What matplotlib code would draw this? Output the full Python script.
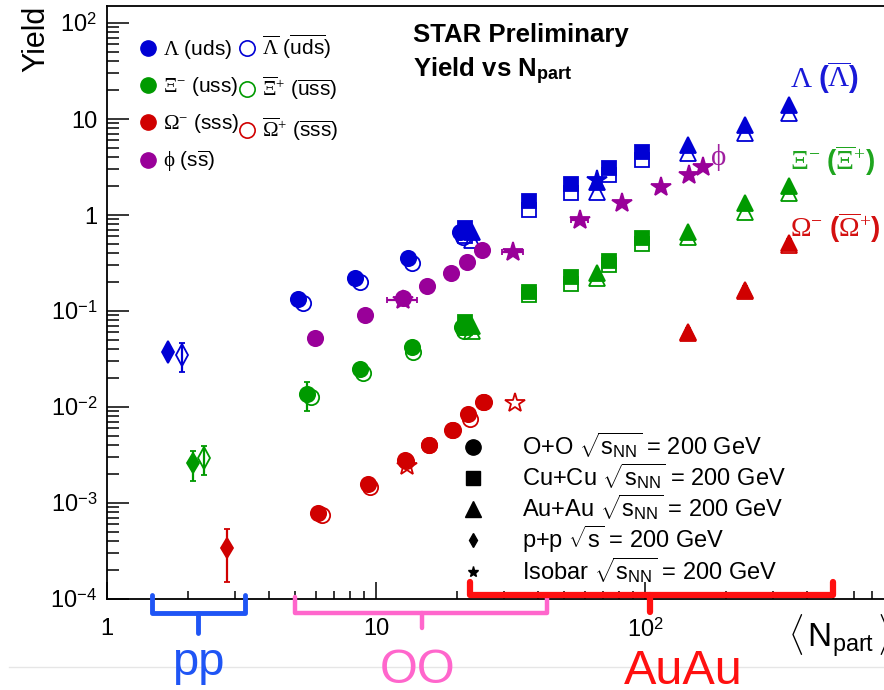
import numpy as np
import matplotlib.pyplot as plt
from matplotlib.lines import Line2D
from matplotlib.ticker import FuncFormatter, LogLocator, NullFormatter

plt.rcParams['font.family'] = ['Liberation Sans', 'DejaVu Sans']
plt.rcParams['mathtext.fontset'] = 'custom'
plt.rcParams['mathtext.rm'] = 'Liberation Serif'
plt.rcParams['mathtext.it'] = 'Liberation Serif:italic'
plt.rcParams['mathtext.bf'] = 'Liberation Sans:bold'
plt.rcParams['mathtext.sf'] = 'Liberation Sans'

# ---- p+p ----
pp_npart = [1.69, 2.09, 2.79]            # Lambda, Xi, Omega
pp_yield = [0.0374, 0.00261, 0.00034]
pp_err = [0.004, 0.0009, 0.00019]
pp_bar_npart = [1.90, 2.29]              # anti-Lambda, anti-Xi
pp_bar_yield = [0.0348, 0.00294]
pp_bar_err = [0.0116, 0.0010]

# ---- O+O ----
oo_lam_npart = [5.13, 8.36, 13.2, 20.5]
oo_lam = [0.133, 0.221, 0.356, 0.665]
oo_lbar_npart = [5.35, 8.72, 13.6, 21.1]
oo_lbar = [0.121, 0.200, 0.316, 0.59]
oo_xi_npart = [5.54, 8.72, 13.6, 20.9]
oo_xi = [0.01365, 0.0249, 0.0422, 0.068]
oo_xi_err = [0.0046, 0.0025, 0.003, 0.004]
oo_xbar_npart = [5.73, 8.95, 13.7, 21.2]
oo_xbar = [0.0127, 0.0226, 0.0374, 0.0619]
oo_om_npart = [6.09, 9.34, 12.8, 15.7, 19.2, 22.0, 25.0]
oo_om = [0.000787, 0.00158, 0.00281, 0.00402, 0.00576, 0.00845, 0.01128]
oo_obar_npart = [6.30, 9.50, 12.9, 15.8, 19.4, 22.4, 25.2]
oo_obar = [0.00075, 0.00147, 0.00275, 0.0040, 0.0057, 0.0075, 0.0112]
oo_phi_npart = [5.93, 9.1, 12.6, 15.5, 19.0, 21.8, 24.8]
oo_phi = [0.052, 0.091, 0.136, 0.182, 0.249, 0.324, 0.432]

# ---- Cu+Cu ----
cu_npart = [21.4, 37.0, 53.1, 73.5, 97.4]
cu_lam = [0.733, 1.40, 2.10, 3.09, 4.53]
cu_lbar = [0.60, 1.13, 1.69, 2.61, 3.74]
cu_xi = [0.0767, 0.158, 0.226, 0.332, 0.575]
cu_xbar = [0.0665, 0.147, 0.191, 0.301, 0.499]

# ---- Au+Au ----
au_npart = [22.7, 66.3, 144.5, 235, 343]
au_lam = [0.665, 2.21, 5.36, 8.66, 14.0]
au_lbar = [0.55, 1.74, 4.42, 7.14, 11.5]
au_xi = [0.070, 0.249, 0.665, 1.33, 2.01]
au_xbar = [0.062, 0.221, 0.59, 1.07, 1.69]
au_om_npart = [144.5, 235, 343]
au_om = [0.0604, 0.1655, 0.511]
au_obar = [0.0585, 0.160, 0.49]

# ---- Isobar ----
iso_phi_npart = [12.6, 32.3, 57.3, 82.1, 115, 146, 164]
iso_phi = [0.131, 0.412, 0.887, 1.33, 1.96, 2.61, 3.16]
iso_phi_xerr = [1.6, 3.0, 4.0, 0, 0, 0, 0]
iso_lam_npart = [66.3]
iso_lam = [2.32]
iso_obar_npart = [13.0, 32.9]
iso_obar = [0.00243, 0.0110]

C_LAM = '#0000d4'
C_XI = '#009a00'
C_OM = '#d00000'
C_PHI = '#990099'

fig = plt.figure(figsize=(8.84, 6.9), dpi=100)
ax = fig.add_axes([107 / 884, 91 / 690, 807 / 884, 593 / 690])
ax.set_xscale('log')
ax.set_yscale('log')
ax.set_xlim(1, 1000)
ax.set_ylim(1e-4, 10 ** (2 + 17 / 96))


def draw(x, y, marker, color, filled, ms, yerr=None, xerr=None, z=3):
    ax.errorbar(x, y, yerr=yerr, xerr=xerr, fmt=marker, color=color,
                mfc=color if filled else 'none', mec=color, ms=ms, mew=1.3,
                elinewidth=1.6, capsize=2 if (yerr is not None or xerr is not None) else 0,
                zorder=z + (1 if filled else 0))


# open (anti-particle) markers under the filled ones
draw(pp_bar_npart[:1], pp_bar_yield[:1], 'd', C_LAM, False, 11, yerr=pp_bar_err[:1])
draw(pp_bar_npart[1:], pp_bar_yield[1:], 'd', C_XI, False, 11, yerr=pp_bar_err[1:])
draw(pp_npart[:1], pp_yield[:1], 'd', C_LAM, True, 11)
draw(pp_npart[1:2], pp_yield[1:2], 'd', C_XI, True, 10, yerr=pp_err[1:2])
draw(pp_npart[2:], pp_yield[2:], 'd', C_OM, True, 10, yerr=pp_err[2:])

draw(oo_lbar_npart, oo_lbar, 'o', C_LAM, False, 11)
draw(oo_lam_npart, oo_lam, 'o', C_LAM, True, 11)
draw(oo_xbar_npart, oo_xbar, 'o', C_XI, False, 11)
draw(oo_xi_npart, oo_xi, 'o', C_XI, True, 11, yerr=oo_xi_err)
draw(oo_obar_npart, oo_obar, 'o', C_OM, False, 11)
draw(oo_om_npart, oo_om, 'o', C_OM, True, 11)
draw(oo_phi_npart, oo_phi, 'o', C_PHI, True, 11)

draw(cu_npart, cu_lbar, 's', C_LAM, False, 10.5)
draw(cu_npart, cu_lam, 's', C_LAM, True, 10.5)
draw(cu_npart, cu_xbar, 's', C_XI, False, 10.5)
draw(cu_npart, cu_xi, 's', C_XI, True, 10.5)

draw(au_npart, au_lbar, '^', C_LAM, False, 11)
draw(au_npart, au_lam, '^', C_LAM, True, 11)
draw(au_npart, au_xbar, '^', C_XI, False, 11)
draw(au_npart, au_xi, '^', C_XI, True, 11)
draw(au_om_npart, au_obar, '^', C_OM, False, 11)
draw(au_om_npart, au_om, '^', C_OM, True, 11, yerr=[0.1 * v for v in au_om])

draw(iso_phi_npart, iso_phi, '*', C_PHI, True, 15, xerr=iso_phi_xerr)
draw(iso_lam_npart, iso_lam, '*', C_LAM, True, 15)
draw(iso_obar_npart, iso_obar, '*', C_OM, False, 15)

# axes styling
for side in ['left', 'bottom', 'top']:
    ax.spines[side].set_linewidth(1.3)
ax.spines['right'].set_visible(False)
ax.xaxis.set_major_locator(LogLocator(base=10))
ax.xaxis.set_minor_locator(LogLocator(base=10, subs=np.arange(2, 10)))
ax.yaxis.set_major_locator(LogLocator(base=10))
ax.yaxis.set_minor_locator(LogLocator(base=10, subs=np.arange(2, 10)))
ax.xaxis.set_minor_formatter(NullFormatter())
ax.yaxis.set_minor_formatter(NullFormatter())


def decade(v, pos):
    e = int(round(np.log10(v)))
    if e == 0:
        return '1'
    if e == 1:
        return '10'
    return r'$\mathsf{10}^{\mathsf{%d}}$' % e


ax.xaxis.set_major_formatter(FuncFormatter(decade))
ax.yaxis.set_major_formatter(FuncFormatter(decade))
ax.tick_params(which='both', direction='in', top=False, right=False, width=1.1,
               labelsize=17)
ax.xaxis.set_tick_params(which='major', length=12, pad=14)
ax.xaxis.set_tick_params(which='minor', length=6)
ax.yaxis.set_tick_params(which='major', length=16, pad=7)
ax.yaxis.set_tick_params(which='minor', length=8.5)

ax.text(-0.088, 1.0, 'Yield', transform=ax.transAxes, rotation=90,
        ha='center', va='top', fontsize=22)
fig.text(788 / 884, 0.062, r'$\langle\,\mathsf{N}_{\mathsf{part}}\,\rangle$',
         fontsize=24, ha='left', va='baseline')

ax.text(0.379, 0.939, 'STAR Preliminary', transform=ax.transAxes,
        fontsize=18.5, fontweight='bold', va='baseline')
ax.text(0.379, 0.880, r'Yield vs $\mathbf{N}_{\mathbf{part}}$',
        transform=ax.transAxes, fontsize=18.5, fontweight='bold', va='baseline')

ax.text(0.846, 0.862, r'$\Lambda\ \mathbf{(}\overline{\Lambda}\mathbf{)}$',
        transform=ax.transAxes, fontsize=21, color='#1a1ad8', va='baseline')
ax.text(0.846, 0.723, r'$\Xi^{-}\ \mathbf{(}\overline{\Xi}^{+}\mathbf{)}$',
        transform=ax.transAxes, fontsize=20, color='#1fa51f', va='baseline')
ax.text(0.846, 0.610, r'$\Omega^{-}\ \mathbf{(}\overline{\Omega}^{+}\mathbf{)}$',
        transform=ax.transAxes, fontsize=20, color='#d41010', va='baseline')
ax.text(0.747, 0.732, r'$\mathrm{\phi}$', transform=ax.transAxes,
        fontsize=21, color='#a020a0', va='baseline')

# species legend (two columns)
sp = dict(ls='none', ms=11)
species_handles = [
    Line2D([], [], marker='o', color=C_LAM, **sp),
    Line2D([], [], marker='o', color=C_XI, **sp),
    Line2D([], [], marker='o', color=C_OM, **sp),
    Line2D([], [], marker='o', color=C_PHI, **sp),
    Line2D([], [], marker='o', color=C_LAM, mfc='none', mew=1.2, **sp),
    Line2D([], [], marker='o', color=C_XI, mfc='none', mew=1.2, **sp),
    Line2D([], [], marker='o', color=C_OM, mfc='none', mew=1.2, **sp),
]
species_labels = [
    r'$\Lambda$ (uds)', r'$\Xi^{-}$ (uss)', r'$\Omega^{-}$ (sss)',
    r'$\mathrm{\phi}$ (s$\overline{\mathsf{s}}$)',
    r'$\overline{\Lambda}$ ($\overline{\mathsf{uds}}$)',
    r'$\overline{\Xi}^{+}$ ($\overline{\mathsf{uss}}$)',
    r'$\overline{\Omega}^{+}$ ($\overline{\mathsf{sss}}$)',
]
leg1 = ax.legend(species_handles, species_labels, ncol=2, frameon=False,
                 fontsize=15, loc='upper left', bbox_to_anchor=(0.041, 0.955),
                 borderpad=0, borderaxespad=0, handlelength=0.8,
                 handletextpad=0.3, columnspacing=0.0, labelspacing=0.68)
ax.add_artist(leg1)

# collision-system legend
sys_handles = [
    Line2D([], [], marker='o', color='k', ls='none', ms=11),
    Line2D([], [], marker='s', color='k', ls='none', ms=10),
    Line2D([], [], marker='^', color='k', ls='none', ms=11),
    Line2D([], [], marker='d', color='k', ls='none', ms=7),
    Line2D([], [], marker='*', color='k', ls='none', ms=8),
]
sys_labels = [
    r'O+O $\sqrt{\mathsf{s}_{\mathsf{NN}}}$ = 200 GeV',
    r'Cu+Cu $\sqrt{\mathsf{s}_{\mathsf{NN}}}$ = 200 GeV',
    r'Au+Au $\sqrt{\mathsf{s}_{\mathsf{NN}}}$ = 200 GeV',
    r'p+p $\sqrt{\mathsf{s}}$ = 200 GeV',
    r'Isobar $\sqrt{\mathsf{s}_{\mathsf{NN}}}$ = 200 GeV',
]
ax.legend(sys_handles, sys_labels, frameon=False, fontsize=17,
          loc='upper left', bbox_to_anchor=(0.4387, 0.284), borderpad=0,
          borderaxespad=0, handlelength=1.0, handletextpad=1.6,
          labelspacing=0.04)

# range brackets below the axis
xt = ax.get_xaxis_transform()


def bracket(x0, x1, xm, top, bar, stem, color, lw):
    ax.plot([x0, x0, x1, x1], [top, bar, bar, top], color=color, lw=lw,
            transform=xt, clip_on=False, solid_joinstyle='round',
            solid_capstyle='round', zorder=6)
    ax.plot([xm, xm], [bar, stem], color=color, lw=lw, transform=xt,
            clip_on=False, solid_capstyle='round', zorder=6)


bracket(1.47, 3.26, 2.18, 0.007, -0.024, -0.057, '#1f55f5', 3.5)
bracket(5.0, 43.2, 14.8, 0.003, -0.024, -0.049, '#ff66cc', 3.2)
bracket(22.3, 500, 104, 0.029, 0.007, -0.022, '#ff1010', 4.5)

fig.add_artist(Line2D([0.01, 1.0], [0.0333, 0.0333], color='#e6e6e6', lw=1))
fig.text(198 / 884, 0.0217, 'pp', color='#1f55f5', fontsize=34,
         ha='center', va='baseline')
fig.text(418 / 884, 0.010, 'OO', color='#ff66cc', fontsize=35,
         ha='center', va='baseline')
fig.text(683 / 884, 0.008, 'AuAu', color='#ff1010', fontsize=35,
         ha='center', va='baseline')

fig.savefig('out.png', dpi=100)
